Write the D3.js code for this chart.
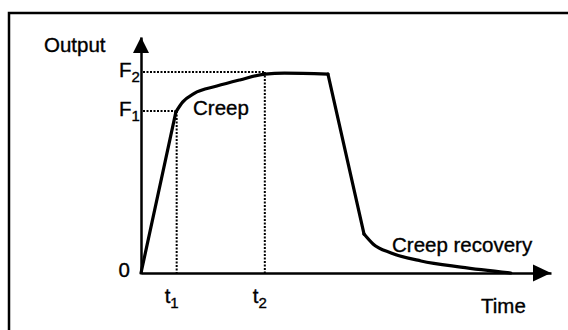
<!DOCTYPE html>
<html>
<head>
<meta charset="utf-8">
<script src="https://cdn.jsdelivr.net/npm/d3@7"></script>
<style>
  body { margin: 0; background: #fff; }
  svg text { font-family: Arial, "Liberation Sans", sans-serif; fill: #000; stroke: #000; stroke-width: 0.35px; }
</style>
</head>
<body>
<div id="chart"></div>
<script>
// curve (arbitrary units, 0-100 on both axes)
var time   = [0, 8.5, 10.2, 12.9, 18.5, 24.1, 30.2, 35, 45.6, 54.4, 56.6, 61, 68.3, 78, 90.2];
var output = [0, 68.2, 72.5, 76.0, 79.2, 81.8, 84.3, 84.7, 84.3, 16.5, 12.3, 8.5, 5.1, 2.5, 0];

// which stretches are straight and which are smooth
var segments = [
  { from: 0, to: 1, smooth: false },
  { from: 1, to: 8, smooth: true },
  { from: 8, to: 9, smooth: false },
  { from: 9, to: 14, smooth: true }
];

// marked times and levels
var markTimes  = [8.7, 30.2];
var markLabels = ["1", "2"];
var levelValues = [68.6, 85.2];
var levelLabels = ["1", "2"];

var svgWidth = 568;
var svgHeight = 330;

var svg = d3.select("#chart")
  .append("svg")
  .attr("width", svgWidth)
  .attr("height", svgHeight);

// outer frame (top and left edges only show in the picture)
svg.append("path")
  .attr("d", "M9,330 L9,13 L568,13")
  .attr("fill", "none")
  .attr("stroke", "#000")
  .attr("stroke-width", 2.5);

var x = d3.scaleLinear().domain([0, 100]).range([141, 551]);
var y = d3.scaleLinear().domain([0, 100]).range([273, 37]);

// axes
var bottomAxis = d3.axisBottom(x).tickValues([]).tickSizeOuter(0);
var leftAxis = d3.axisLeft(y).tickValues([]).tickSizeOuter(0);

svg.append("g")
  .attr("transform", "translate(0," + y(0) + ")")
  .call(bottomAxis)
  .select(".domain")
  .attr("stroke-width", 2.5);

svg.append("g")
  .attr("transform", "translate(" + x(0) + ",0)")
  .call(leftAxis)
  .select(".domain")
  .attr("stroke-width", 2.5);

// arrow heads
svg.append("path")
  .attr("d", "M" + x(100) + "," + y(0) + " l-18,-8.5 l0,17 z")
  .attr("fill", "#000");
svg.append("path")
  .attr("d", "M" + x(0) + "," + y(100) + " l-8,16 l16,0 z")
  .attr("fill", "#000");

// dotted guides
var guides = svg.append("g")
  .attr("stroke", "#000")
  .attr("stroke-width", 2)
  .attr("stroke-dasharray", "2,1.5")
  .attr("fill", "none");

var creepStart = 8.7, creepEnd = 30.2;
guides.append("line")
  .attr("x1", x(0) + 2).attr("x2", x(creepStart))
  .attr("y1", y(levelValues[0])).attr("y2", y(levelValues[0]));
guides.append("line")
  .attr("x1", x(creepStart)).attr("x2", x(creepStart))
  .attr("y1", y(levelValues[0])).attr("y2", y(0));
guides.append("line")
  .attr("x1", x(0) + 2).attr("x2", x(creepEnd))
  .attr("y1", y(levelValues[1])).attr("y2", y(levelValues[1]));
guides.append("line")
  .attr("x1", x(creepEnd)).attr("x2", x(creepEnd))
  .attr("y1", y(levelValues[1])).attr("y2", y(0));

// response curve
var pts = time.map(function(t, i) { return [t, output[i]]; });

segments.forEach(function(s) {
  var line = d3.line()
    .x(function(d) { return x(d[0]); })
    .y(function(d) { return y(d[1]); })
    .curve(s.smooth ? d3.curveMonotoneX : d3.curveLinear);
  svg.append("path")
    .attr("d", line(pts.slice(s.from, s.to + 1)))
    .attr("fill", "none")
    .attr("stroke", "#000")
    .attr("stroke-width", 3.2)
    .attr("stroke-linejoin", "round")
    .attr("stroke-linecap", "round");
});

// labels
svg.append("text")
  .attr("x", 44).attr("y", 52)
  .style("font-size", "20.5px")
  .text("Output");

svg.append("text")
  .attr("x", x(0) - 11).attr("y", y(0) + 4)
  .attr("text-anchor", "end")
  .style("font-size", "20.5px")
  .text("0");

levelValues.forEach(function(v, i) {
  var t = svg.append("text")
    .attr("x", x(0) - 22).attr("y", y(v) + 5)
    .style("font-size", "20.5px");
  t.append("tspan").text("F");
  t.append("tspan")
    .attr("dy", 5)
    .style("font-size", "15px")
    .text(levelLabels[i]);
});

markTimes.forEach(function(v, i) {
  var t = svg.append("text")
    .attr("x", x(v) - 12).attr("y", 303)
    .style("font-size", "20.5px");
  t.append("tspan").text("t");
  t.append("tspan")
    .attr("dy", 5)
    .style("font-size", "15px")
    .text(markLabels[i]);
});

svg.append("text")
  .attr("x", 193).attr("y", 115)
  .style("font-size", "20.5px")
  .text("Creep");

svg.append("text")
  .attr("x", 392).attr("y", 252)
  .style("font-size", "20.5px")
  .text("Creep recovery");

svg.append("text")
  .attr("x", 481).attr("y", 313)
  .style("font-size", "20.5px")
  .text("Time");
</script>
</body>
</html>
